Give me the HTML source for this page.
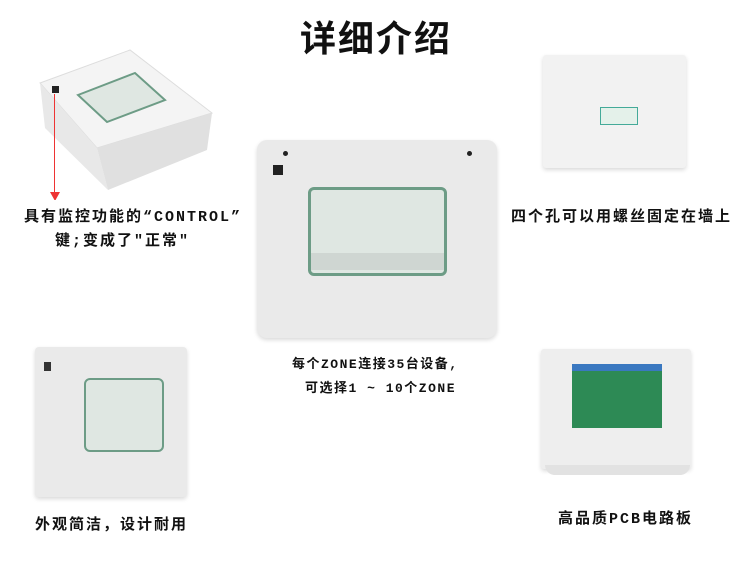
<!DOCTYPE html>
<html><head><meta charset="utf-8"><style>
body{margin:0;width:750px;height:563px;background:#fff;position:relative;overflow:hidden;font-family:"Liberation Sans","Noto Sans CJK SC",sans-serif}
.a{position:absolute}
.t{position:absolute;font-size:15px;font-weight:bold;letter-spacing:2px;color:#111;white-space:nowrap;font-family:"Liberation Mono","Noto Sans CJK SC",monospace}
.box{position:absolute;background:#ececec;border-radius:8px;box-shadow:0 2px 4px rgba(0,0,0,.15)}
.panel{position:absolute;background:#dfe7e2;border:3px solid #6d9c86;border-radius:6px}
</style></head><body>
<div class="a" style="left:300px;top:10px;font-size:36px;font-weight:600;letter-spacing:2px;font-family:'Noto Sans CJK SC',sans-serif;color:#111">详细介绍</div>

<!-- top-left device -->
<svg class="a" style="left:0;top:0" width="260" height="200">
<polygon points="40,83 130,50 212,113 97,148" fill="#f4f4f4" stroke="#ddd"/>
<polygon points="40,83 97,148 108,190 45,128" fill="#e8e8e8"/>
<polygon points="97,148 212,113 207,150 108,190" fill="#e0e0e0"/>
<polygon points="78,95 135,73 165,100 107,122" fill="#dfe7e2" stroke="#6d9c86" stroke-width="2"/>
<rect x="52" y="86" width="7" height="7" fill="#222"/>
<line x1="54.5" y1="94" x2="54.5" y2="193" stroke="#e33" stroke-width="1"/>
<polygon points="50,192 60,192 55,201" fill="#e33"/>
</svg>
<div class="t" style="left:24px;top:205px">具有监控功能的“CONTROL”</div>
<div class="t" style="left:55px;top:229px">键;变成了"正常"</div>

<!-- top-right device -->
<div class="box" style="left:543px;top:55px;width:143px;height:113px;background:#f2f2f2;border-radius:3px"></div>
<div class="a" style="left:600px;top:107px;width:36px;height:16px;border:1px solid #4a9;background:#e4f1ea"></div>
<div class="t" style="left:511px;top:205px">四个孔可以用螺丝固定在墙上</div>

<!-- center device -->
<div class="box" style="left:257px;top:140px;width:240px;height:198px;border-radius:10px;background:#eaeaea"></div>
<div class="a" style="left:283px;top:151px;width:5px;height:5px;border-radius:50%;background:#222"></div>
<div class="a" style="left:467px;top:151px;width:5px;height:5px;border-radius:50%;background:#222"></div>
<div class="a" style="left:273px;top:165px;width:10px;height:10px;background:#222"></div>
<div class="panel" style="left:308px;top:187px;width:133px;height:83px"></div>
<div class="a" style="left:311px;top:253px;width:133px;height:17px;background:#cfd6d2"></div>
<div class="t" style="left:292px;top:353px;font-size:13px;letter-spacing:1.5px">每个ZONE连接35台设备,</div>
<div class="t" style="left:305px;top:377px;font-size:13px;letter-spacing:1.5px">可选择1 ~ 10个ZONE</div>

<!-- bottom-left device -->
<div class="box" style="left:35px;top:347px;width:152px;height:150px;border-radius:4px;background:#eaeaea"></div>
<div class="a" style="left:44px;top:362px;width:7px;height:9px;background:#333"></div>
<div class="panel" style="left:84px;top:378px;width:76px;height:70px;border-width:2px"></div>
<div class="t" style="left:35px;top:513px">外观简洁，设计耐用</div>

<!-- bottom-right device -->
<div class="box" style="left:541px;top:349px;width:150px;height:120px;border-radius:3px;background:#eee"></div>
<div class="a" style="left:572px;top:364px;width:90px;height:64px;background:#2d8a55"></div>
<div class="a" style="left:572px;top:364px;width:90px;height:7px;background:#3a78c0"></div>
<div class="a" style="left:545px;top:465px;width:145px;height:10px;border-radius:0 0 40px 40px;background:#e2e2e2"></div>
<div class="t" style="left:558px;top:507px">高品质PCB电路板</div>
</body></html>
